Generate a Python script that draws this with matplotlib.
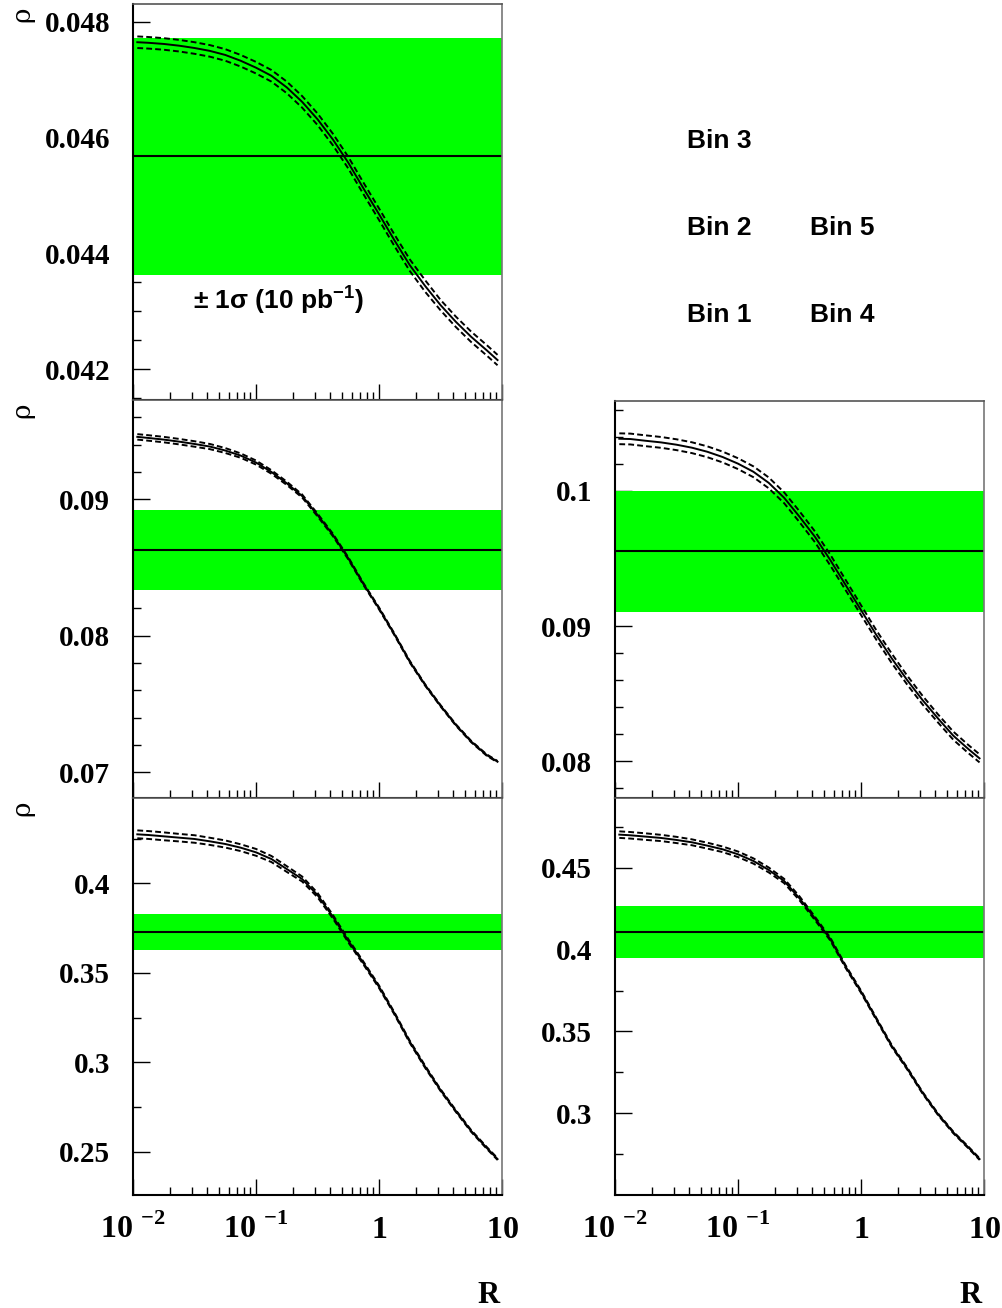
import matplotlib
matplotlib.use("Agg")
import matplotlib.pyplot as plt
import numpy as np
from matplotlib.ticker import FixedLocator, MultipleLocator, FormatStrFormatter, NullFormatter

plt.rcParams["mathtext.fontset"] = "custom"
plt.rcParams["mathtext.rm"] = "Liberation Serif"
plt.rcParams["mathtext.bf"] = "Liberation Serif:bold"
plt.rcParams["mathtext.sf"] = "Liberation Sans:bold"

R = [0.01084, 0.01334, 0.01778, 0.02371, 0.03162, 0.04217, 0.05623, 0.07499,
     0.1, 0.1334, 0.1778, 0.2371, 0.3162, 0.4217, 0.5623, 0.7499,
     1.0, 1.334, 1.778, 2.371, 3.162, 4.217, 5.623, 7.499, 9.2]

rho_bin1 = [0.42740, 0.42702, 0.42628, 0.42553, 0.42479, 0.42348, 0.42199, 0.41994,
            0.41733, 0.41360, 0.40801, 0.40242, 0.39348, 0.38136, 0.36795, 0.35527,
            0.34223, 0.32732, 0.31148, 0.29750, 0.28446, 0.27272, 0.26153, 0.25221, 0.24588]
err_bin1 = [0.0022, 0.0022, 0.0022, 0.0021, 0.0021, 0.0020, 0.0020, 0.0019,
            0.0019, 0.0017, 0.0016, 0.0014, 0.0012, 0.0010, 0.0009, 0.0008,
            0.0007, 0.0006, 0.0006, 0.0006, 0.0005, 0.0005, 0.0005, 0.0005, 0.0005]

rho_bin2 = [0.09457, 0.09449, 0.09437, 0.09422, 0.09405, 0.09386, 0.09357, 0.09320,
            0.09269, 0.09200, 0.09117, 0.09024, 0.08885, 0.08739, 0.08568, 0.08377,
            0.08201, 0.08011, 0.07811, 0.07640, 0.07488, 0.07347, 0.07225, 0.07127, 0.07078]
err_bin2 = [0.0002, 0.0002, 0.0002, 0.0002, 0.0002, 0.00019, 0.00018, 0.00016,
            0.00015, 0.00013, 0.00012, 0.00011, 0.0001, 0.00009, 0.00008, 0.00007,
            0.00007, 0.00006, 0.00006, 0.00005, 0.00005, 0.00005, 0.00005, 0.00005, 0.00005]

rho_bin3 = [0.04765, 0.04764, 0.04762, 0.04759, 0.04755, 0.04750, 0.04743, 0.04733,
            0.04721, 0.04707, 0.04687, 0.04662, 0.04632, 0.04597, 0.04557, 0.04512,
            0.04468, 0.04423, 0.04380, 0.04344, 0.04311, 0.04282, 0.04256, 0.04233, 0.04216]
err_bin3 = [0.00010, 0.00010, 0.00010, 0.00010, 0.00010, 0.00010, 0.00010, 0.00010,
            0.00010, 0.00010, 0.00010, 0.00010, 0.00010, 0.00010, 0.00010, 0.00010,
            0.00010, 0.00010, 0.00010, 0.00010, 0.00009, 0.00009, 0.00009, 0.00009, 0.00009]

rho_bin4 = [0.47015, 0.46974, 0.46893, 0.46811, 0.46689, 0.46547, 0.46343, 0.46119,
            0.45814, 0.45407, 0.44858, 0.44186, 0.43128, 0.41907, 0.40645, 0.38956,
            0.37430, 0.35761, 0.34113, 0.32749, 0.31264, 0.29961, 0.28842, 0.27906, 0.27214]
err_bin4 = [0.0020, 0.0020, 0.0020, 0.0019, 0.0019, 0.0018, 0.0018, 0.0017,
            0.0017, 0.0016, 0.0015, 0.0013, 0.0012, 0.0010, 0.0009, 0.0008,
            0.0007, 0.0006, 0.0006, 0.0006, 0.0005, 0.0005, 0.0005, 0.0005, 0.0005]

rho_bin5 = [0.10384, 0.10382, 0.10369, 0.10357, 0.10340, 0.10318, 0.10288, 0.10249,
            0.10200, 0.10140, 0.10058, 0.09948, 0.09808, 0.09660, 0.09488, 0.09303,
            0.09118, 0.08933, 0.08761, 0.08601, 0.08453, 0.08318, 0.08190, 0.08089, 0.08022]
err_bin5 = [0.0004, 0.0004, 0.0004, 0.0004, 0.0004, 0.0004, 0.0004, 0.0004,
            0.0004, 0.0004, 0.0004, 0.0004, 0.0004, 0.0004, 0.0004, 0.00038,
            0.00036, 0.00035, 0.00035, 0.00033, 0.00032, 0.0003, 0.0003, 0.0003, 0.0003]

# measured value and 1 sigma (10 pb^-1) per bin, bins 1..5
band_mean = [0.37279, 0.08629, 0.04568, 0.41072, 0.09553]
band_sigma = [0.0103, 0.00292, 0.00205, 0.0158, 0.00447]

xtick_vals = [0.01, 0.1, 1, 10]
xtick_labels = [r"$\mathbf{10}\;{}^{\mathbf{-2}}$", r"$\mathbf{10}\;{}^{\mathbf{-1}}$",
                r"$\mathbf{1}$", r"$\mathbf{10}$"]

W, H = 1003, 1308
fig = plt.figure(figsize=(W / 100, H / 100), dpi=100)

# bin: (pixel box, ylim, major step, minor step, has x labels, has rho label)
panels = {
    3: ((133, 4, 502, 400), (0.04147, 0.04831), 0.002, 0.0005, False, True),
    2: ((133, 400, 502, 798), (0.06812, 0.09727), 0.01, 0.002, False, True),
    1: ((133, 798, 502, 1195), (0.2258, 0.4477), 0.05, 0.025, True, True),
    5: ((615, 401, 984, 798), (0.07729, 0.10663), 0.01, 0.002, False, False),
    4: ((615, 798, 984, 1195), (0.2502, 0.4925), 0.05, 0.025, True, False),
}
curves = {1: (rho_bin1, err_bin1), 2: (rho_bin2, err_bin2), 3: (rho_bin3, err_bin3),
          4: (rho_bin4, err_bin4), 5: (rho_bin5, err_bin5)}

axes = {}
for b, (box, ylim, major, minor, xlab, ylab) in panels.items():
    x0, y0, x1, y1 = box
    ax = fig.add_axes([x0 / W, 1 - y1 / H, (x1 - x0) / W, (y1 - y0) / H])
    axes[b] = ax
    ax.set_axisbelow(True)

    mean, sig = band_mean[b - 1], band_sigma[b - 1]
    ax.axhspan(mean - sig, mean + sig, color="#00ff00", lw=0, zorder=1)
    ax.axhline(mean, color="black", lw=1.5, zorder=2)

    rho, err = curves[b]
    rho = np.array(rho)
    err = np.array(err)
    ax.plot(R, rho, color="black", lw=1.4, zorder=3)
    ax.plot(R, rho + err, color="black", lw=1.4, dashes=(3, 1.6), zorder=3)
    ax.plot(R, rho - err, color="black", lw=1.4, dashes=(3, 1.6), zorder=3)

    ax.set_xscale("log")
    ax.set_xlim(0.01, 10)
    ax.set_ylim(*ylim)
    ax.xaxis.set_major_locator(FixedLocator(xtick_vals))
    ax.xaxis.set_minor_locator(FixedLocator(
        [m * d for d in (0.01, 0.1, 1) for m in range(2, 10)]))
    ax.xaxis.set_minor_formatter(NullFormatter())
    ax.yaxis.set_major_locator(MultipleLocator(major))
    ax.yaxis.set_minor_locator(MultipleLocator(minor))
    ax.yaxis.set_major_formatter(FormatStrFormatter("%g"))

    ax.tick_params(axis="both", which="both", direction="in", top=False, right=False,
                   color="black", width=1)
    ax.tick_params(axis="x", which="major", length=11.5)
    ax.tick_params(axis="x", which="minor", length=6)
    ax.tick_params(axis="y", which="major", length=12, pad=16.5)
    ax.tick_params(axis="y", which="minor", length=6)
    for lab in ax.get_yticklabels():
        lab.set_fontfamily("Liberation Serif")
        lab.set_fontweight("bold")
        lab.set_fontsize(21)

    if xlab:
        ax.set_xticklabels(xtick_labels, fontsize=23)
        ax.tick_params(axis="x", which="major", pad=31)
        for lab in ax.get_xticklabels():
            lab.set_verticalalignment("baseline")
        fig.text((x1 - 2) / W, 1 - 1303 / H, "R", ha="right", va="baseline",
                 family="Liberation Serif", fontweight="bold", fontsize=22)
    else:
        ax.set_xticklabels([])

    if ylab:
        ax.text(-0.301, 1 - 10 / (y1 - y0), "\u03c1", rotation=90, ha="center",
                va="center", transform=ax.transAxes, family="DejaVu Serif", fontsize=19)

    ax.spines["left"].set_color("black")
    ax.spines["bottom"].set_color("black")
    ax.spines["left"].set_linewidth(1.5)
    ax.spines["bottom"].set_linewidth(1.5)
    ax.spines["top"].set_color("#555555")
    ax.spines["right"].set_color("#777777")
    ax.spines["top"].set_linewidth(1.2)
    ax.spines["right"].set_linewidth(1.2)

fig.text(193 / W, 1 - 309 / H, "\u00b1 1\u03c3 (10 pb$^{\\mathsf{-1}}$)", ha="left",
         va="baseline", family="Liberation Sans", fontweight="bold", fontsize=19)

bin_labels = [("Bin 3", 687, 148), ("Bin 2", 687, 235), ("Bin 1", 687, 322),
              ("Bin 5", 810, 235), ("Bin 4", 810, 322)]
for txt, px, py in bin_labels:
    fig.text(px / W, 1 - py / H, txt, ha="left", va="baseline",
             family="Liberation Sans", fontweight="bold", fontsize=19)

fig.savefig("out.png", dpi=100)
